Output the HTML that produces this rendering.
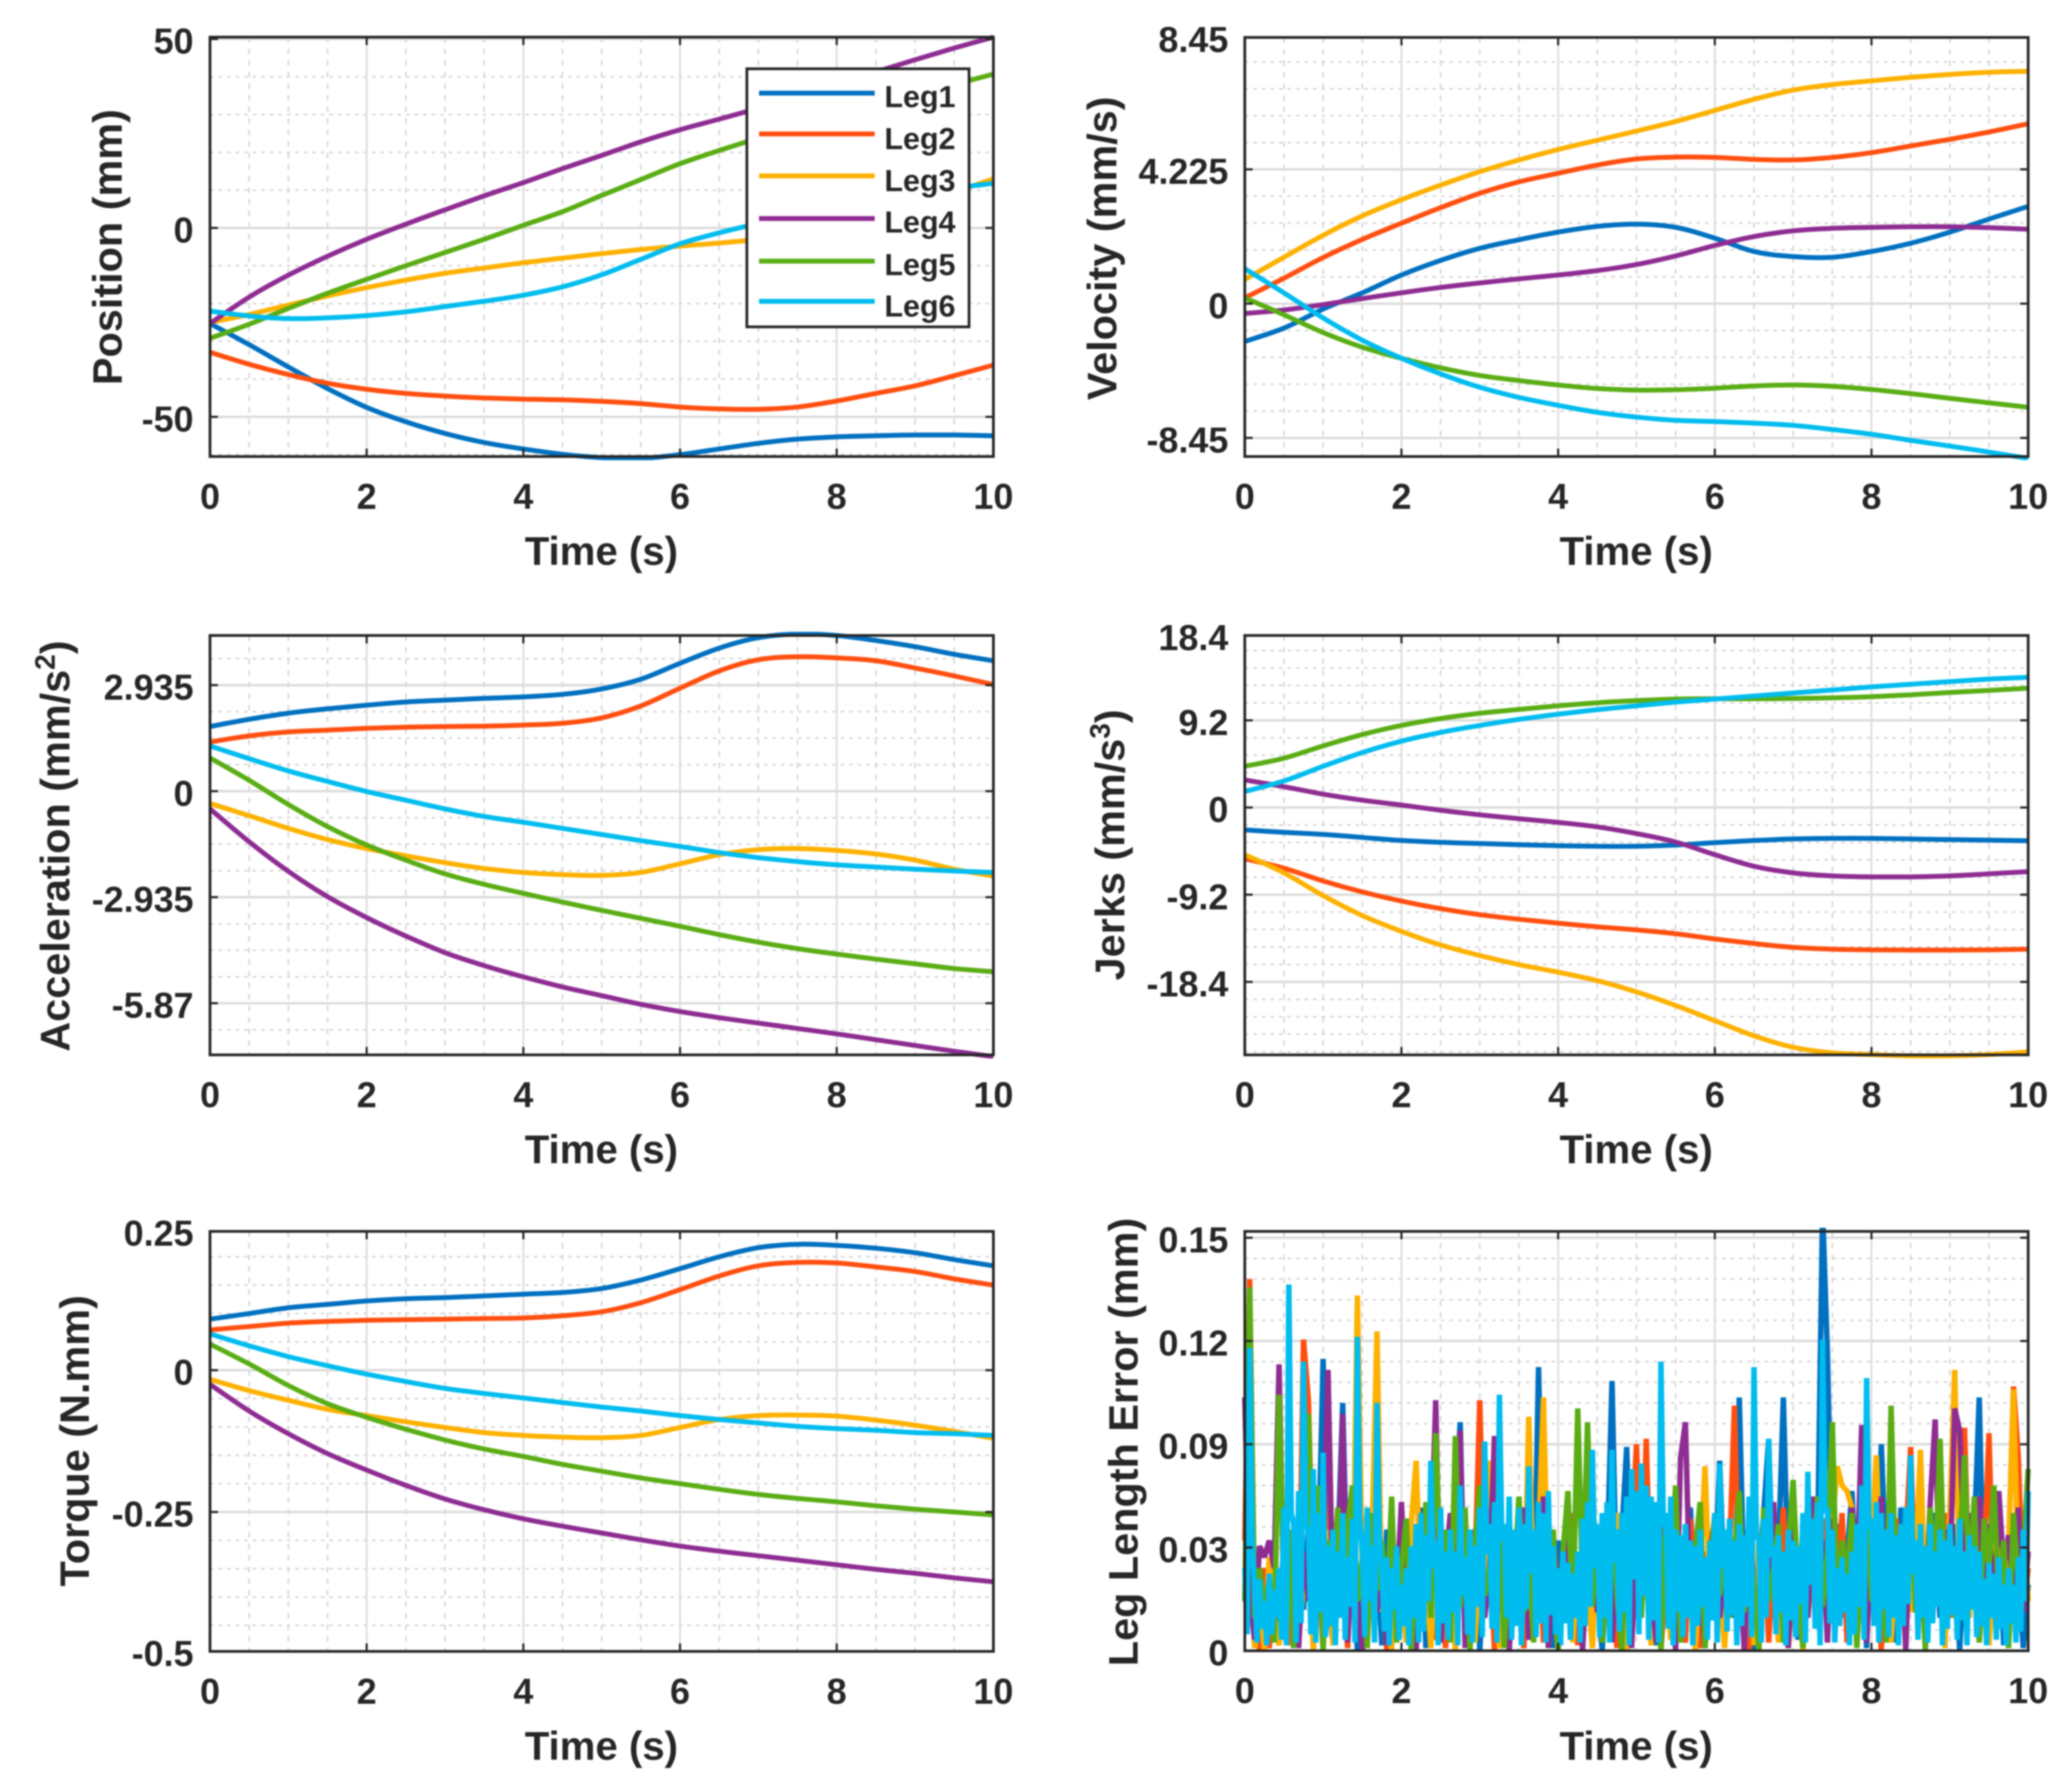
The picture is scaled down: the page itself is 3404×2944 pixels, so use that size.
<!DOCTYPE html>
<html lang="en">
<head>
<meta charset="utf-8">
<title>Leg kinematics charts</title>
<style>
html,body{margin:0;padding:0;background:#fff;}
svg{display:block;filter:blur(1.2px);}
text{font-family:"Liberation Sans",Arial,sans-serif;font-weight:bold;fill:#262626;}
.ax{font-size:66px;}
.ay{font-size:68px;}
.tick{font-size:59px;}
.leg{font-size:50px;}
</style>
</head>
<body>
<svg id="figure" xmlns="http://www.w3.org/2000/svg" width="3404" height="2944" viewBox="0 0 3404 2944">
  <rect x="0" y="0" width="3404" height="2944" fill="#fff"/>
  <defs id="defs"></defs>

  <g id="panel-position"></g>
  <g id="panel-velocity"></g>
  <g id="panel-acceleration"></g>
  <g id="panel-jerk"></g>
  <g id="panel-torque"></g>
  <g id="panel-error"></g>

  <text class="ay" transform="translate(200,406) rotate(-90)" text-anchor="middle">Position (mm)</text>
  <text class="ay" transform="translate(1834,408) rotate(-90)" text-anchor="middle">Velocity (mm/s)</text>
  <text class="ay" transform="translate(114,1390) rotate(-90)" text-anchor="middle">Acceleration (mm/s<tspan dy="-24" font-size="46">2</tspan><tspan dy="24">)</tspan></text>
  <text class="ay" transform="translate(1847,1388) rotate(-90)" text-anchor="middle">Jerks (mm/s<tspan dy="-24" font-size="46">3</tspan><tspan dy="24">)</tspan></text>
  <text class="ay" transform="translate(146,2367) rotate(-90)" text-anchor="middle">Torque (N.mm)</text>
  <text class="ay" transform="translate(1869,2369) rotate(-90)" text-anchor="middle">Leg Length Error (mm)</text>

  <text class="ax" x="988" y="928" text-anchor="middle">Time (s)</text>
  <text class="ax" x="2688" y="928" text-anchor="middle">Time (s)</text>
  <text class="ax" x="988" y="1911" text-anchor="middle">Time (s)</text>
  <text class="ax" x="2688" y="1911" text-anchor="middle">Time (s)</text>
  <text class="ax" x="988" y="2891" text-anchor="middle">Time (s)</text>
  <text class="ax" x="2688" y="2891" text-anchor="middle">Time (s)</text>

  <g id="legend">
    <rect x="1227" y="113" width="365" height="424" fill="#fff" stroke="#262626" stroke-width="4.5"/>
    <g><line x1="1247" x2="1437" y1="153" y2="153" stroke="#0070C0" stroke-width="8"/><text class="leg" x="1453" y="176">Leg1</text></g>
    <g><line x1="1247" x2="1437" y1="220" y2="220" stroke="#FF4F10" stroke-width="8"/><text class="leg" x="1453" y="245">Leg2</text></g>
    <g><line x1="1247" x2="1437" y1="289" y2="289" stroke="#FDB100" stroke-width="8"/><text class="leg" x="1453" y="314">Leg3</text></g>
    <g><line x1="1247" x2="1437" y1="359" y2="359" stroke="#8E2C92" stroke-width="8"/><text class="leg" x="1453" y="382">Leg4</text></g>
    <g><line x1="1247" x2="1437" y1="429" y2="429" stroke="#5AAD14" stroke-width="8"/><text class="leg" x="1453" y="452">Leg5</text></g>
    <g><line x1="1247" x2="1437" y1="495" y2="495" stroke="#00BCEF" stroke-width="8"/><text class="leg" x="1453" y="520">Leg6</text></g>
  </g>
</svg>

<script>
// ---- shared data ----
const timeGrid = [0,0.5,1,1.5,2,2.5,3,3.5,4,4.5,5,5.5,6,6.5,7,7.5,8,8.5,9,9.5,10];
const xTicks = [0,2,4,6,8,10];
const xTickLabels = ['0','2','4','6','8','10'];
const xMinorTicks = [0.5,1,1.5,2.5,3,3.5,4.5,5,5.5,6.5,7,7.5,8.5,9,9.5];
const legColors = ['#0070C0','#FF4F10','#FDB100','#8E2C92','#5AAD14','#00BCEF'];

// ---- position (mm) ----
const positionLeg1 = [-25.3,-30.9,-36.8,-42.5,-47.5,-51.3,-54.4,-56.8,-58.5,-59.9,-60.8,-61,-60,-58.5,-57,-55.9,-55.3,-55,-54.8,-54.8,-55];
const positionLeg2 = [-32.9,-36.1,-38.8,-41.1,-42.7,-43.8,-44.5,-45,-45.3,-45.5,-45.9,-46.5,-47.4,-47.9,-48,-47.4,-45.8,-43.8,-41.8,-39.1,-36.3];
const positionLeg3 = [-25,-22.9,-20.4,-18,-15.8,-13.8,-12,-10.6,-9.2,-8,-6.8,-5.7,-4.8,-4,-3,-1.8,0.5,3,6,9.5,13];
const positionLeg4 = [-25.3,-18.3,-12.5,-7.5,-3,1,4.8,8.5,12,15.7,19.2,22.8,26,28.8,31.7,35,38.2,41.3,44.5,47.6,50.5];
const positionLeg5 = [-29.2,-25.5,-21.3,-17.3,-13.6,-10,-6.5,-3,0.7,4.3,8.6,12.8,17,20.5,23.8,27,30,32.8,35.5,38,40.7];
const positionLeg6 = [-22,-23.3,-24,-23.8,-23.2,-22.2,-20.8,-19.4,-17.8,-15.6,-12.4,-8.3,-4.2,-1.3,1.2,3.6,5.8,8,9.5,10.6,11.8];
const positionYTicks = [50,0,-50];
const positionYTickLabels = ['50','0','-50'];
const positionYLim = [-60.5,50.5];
const positionMinorStep = 10;

// ---- velocity (mm/s) ----
const velocityLeg1 = [-1.19,-0.77,-0.17,0.34,0.9,1.36,1.74,2.01,2.25,2.43,2.5,2.4,2.06,1.64,1.48,1.46,1.64,1.9,2.25,2.66,3.06];
const velocityLeg2 = [0.18,0.8,1.45,2.02,2.53,3.02,3.47,3.83,4.1,4.36,4.55,4.61,4.6,4.54,4.52,4.6,4.75,4.96,5.17,5.4,5.66];
const velocityLeg3 = [0.76,1.46,2.15,2.76,3.27,3.73,4.15,4.52,4.85,5.14,5.43,5.73,6.08,6.43,6.72,6.89,7.01,7.12,7.21,7.28,7.31];
const velocityLeg4 = [-0.31,-0.2,-0.03,0.16,0.34,0.51,0.65,0.78,0.9,1.04,1.23,1.5,1.83,2.11,2.29,2.37,2.4,2.42,2.42,2.39,2.34];
const velocityLeg5 = [0.18,-0.35,-0.91,-1.37,-1.72,-2.02,-2.26,-2.42,-2.56,-2.67,-2.72,-2.71,-2.66,-2.59,-2.56,-2.6,-2.7,-2.83,-2.98,-3.12,-3.26];
const velocityLeg6 = [1.1,0.34,-0.45,-1.15,-1.72,-2.21,-2.63,-2.95,-3.2,-3.42,-3.57,-3.67,-3.71,-3.76,-3.83,-3.96,-4.11,-4.3,-4.48,-4.67,-4.87];
const velocityYTicks = [8.375,4.225,0,-4.225];
const velocityYTickLabels = ['8.45','4.225','0','-8.45'];
const velocityYLim = [-4.81,8.375];
const velocityMinorStep = 0.845;

// ---- acceleration (mm/s^2) ----
const accelerationLeg1 = [1.79,1.99,2.16,2.28,2.38,2.47,2.52,2.57,2.61,2.68,2.83,3.1,3.54,3.96,4.25,4.35,4.31,4.17,4,3.79,3.61];
const accelerationLeg2 = [1.36,1.53,1.64,1.69,1.74,1.77,1.79,1.8,1.83,1.88,2.03,2.36,2.85,3.33,3.64,3.72,3.69,3.61,3.41,3.19,2.95];
const accelerationLeg3 = [-0.34,-0.68,-1.03,-1.34,-1.59,-1.79,-1.98,-2.14,-2.25,-2.31,-2.33,-2.25,-2.01,-1.76,-1.62,-1.59,-1.64,-1.74,-1.91,-2.16,-2.35];
const accelerationLeg4 = [-0.49,-1.4,-2.22,-2.92,-3.5,-4.01,-4.47,-4.83,-5.14,-5.42,-5.66,-5.9,-6.1,-6.27,-6.42,-6.57,-6.72,-6.88,-7.04,-7.2,-7.35];
const accelerationLeg5 = [0.92,0.3,-0.37,-0.98,-1.49,-1.91,-2.29,-2.58,-2.83,-3.07,-3.3,-3.52,-3.74,-3.97,-4.18,-4.36,-4.51,-4.65,-4.78,-4.91,-5];
const accelerationLeg6 = [1.25,0.9,0.56,0.27,-0.01,-0.25,-0.49,-0.7,-0.86,-1.03,-1.2,-1.37,-1.53,-1.7,-1.84,-1.95,-2.04,-2.1,-2.16,-2.21,-2.25];
const accelerationYTicks = [2.935,0,-2.935,-5.87];
const accelerationYTickLabels = ['2.935','0','-2.935','-5.87'];
const accelerationYLim = [-7.3,4.31];
const accelerationMinorStep = 0.734;

// ---- jerk (mm/s^3) ----
const jerkLeg1 = [-2.36,-2.62,-2.84,-3.16,-3.48,-3.67,-3.8,-3.93,-4.03,-4.09,-4.09,-3.96,-3.71,-3.48,-3.32,-3.26,-3.26,-3.32,-3.39,-3.45,-3.51];
const jerkLeg2 = [-5.4,-6.4,-7.75,-8.91,-9.87,-10.67,-11.31,-11.79,-12.2,-12.59,-12.91,-13.32,-13.87,-14.35,-14.76,-14.95,-15.02,-15.05,-15.05,-15.02,-14.95];
const jerkLeg3 = [-4.98,-6.9,-9.3,-11.4,-13.07,-14.5,-15.62,-16.58,-17.38,-18.27,-19.46,-20.89,-22.49,-24.09,-25.3,-25.88,-26.07,-26.2,-26.2,-26.07,-25.78];
const jerkLeg4 = [2.91,2.2,1.41,0.77,0.26,-0.29,-0.77,-1.18,-1.57,-2.04,-2.75,-3.64,-4.98,-6.2,-6.9,-7.22,-7.32,-7.32,-7.22,-7,-6.77];
const jerkLeg5 = [4.35,5.2,6.5,7.7,8.66,9.39,9.94,10.35,10.73,11.05,11.28,11.44,11.47,11.47,11.5,11.57,11.69,11.89,12.14,12.36,12.59];
const jerkLeg6 = [1.69,2.8,4.35,5.8,7,7.92,8.66,9.3,9.84,10.32,10.73,11.12,11.44,11.76,12.08,12.4,12.72,13,13.29,13.55,13.74];
const jerkYTicks = [18.15,9.2,0,-9.2,-18.4];
const jerkYTickLabels = ['18.4','9.2','0','-9.2','-18.4'];
const jerkYLim = [-26.1,18.15];
const jerkMinorStep = 1.84;

// ---- torque (N.mm) ----
const torqueLeg1 = [0.09,0.1,0.11,0.116,0.122,0.126,0.128,0.131,0.134,0.137,0.144,0.159,0.179,0.2,0.216,0.222,0.22,0.215,0.207,0.195,0.184];
const torqueLeg2 = [0.071,0.077,0.083,0.086,0.088,0.089,0.09,0.091,0.092,0.096,0.103,0.119,0.142,0.166,0.184,0.19,0.189,0.182,0.174,0.161,0.15];
const torqueLeg3 = [-0.016,-0.036,-0.053,-0.069,-0.08,-0.091,-0.101,-0.11,-0.115,-0.118,-0.119,-0.115,-0.101,-0.087,-0.08,-0.079,-0.081,-0.088,-0.097,-0.108,-0.12];
const torqueLeg4 = [-0.025,-0.072,-0.112,-0.147,-0.176,-0.203,-0.227,-0.246,-0.262,-0.275,-0.287,-0.299,-0.31,-0.319,-0.327,-0.335,-0.343,-0.351,-0.358,-0.366,-0.373];
const torqueLeg5 = [0.046,0.011,-0.027,-0.059,-0.083,-0.104,-0.123,-0.139,-0.152,-0.166,-0.178,-0.19,-0.2,-0.21,-0.219,-0.226,-0.232,-0.239,-0.245,-0.25,-0.255];
const torqueLeg6 = [0.064,0.043,0.024,0.008,-0.007,-0.02,-0.032,-0.041,-0.049,-0.057,-0.065,-0.072,-0.08,-0.087,-0.093,-0.099,-0.103,-0.106,-0.11,-0.112,-0.115];
const torqueYTicks = [0.245,0,-0.25,-0.4957];
const torqueYTickLabels = ['0.25','0','-0.25','-0.5'];
const torqueYLim = [-0.4957,0.2447];
const torqueMinorStep = 0.05;

// ---- leg length error (micrometres, evenly sampled over 0..10 s) ----
const errorLeg1 = [92,30,12,28,2,18,35,3,42,20,1,38,15,46,12,30,106,22,3,36,
90,18,40,0,25,50,14,32,2,44,20,12,38,4,30,16,52,1,26,40,
12,34,18,48,83,3,28,44,0,36,20,52,14,30,2,42,24,16,46,12,
103,22,34,1,40,18,28,50,3,36,14,44,22,0,32,98,16,42,74,12,
30,48,20,36,2,26,44,14,38,22,3,52,18,30,1,40,24,69,16,34,
12,92,20,42,0,28,50,77,14,36,92,22,44,4,30,54,18,40,160,108,
26,46,12,34,58,20,38,1,48,16,75,28,42,3,52,24,36,14,44,20,
30,50,12,38,18,46,0,34,26,42,92,14,32,20,48,2,36,16,28,1,24];
const errorLeg2 = [40,135,15,0,30,1,20,12,36,2,28,4,113,91,18,34,0,78,22,12,
30,1,40,14,26,3,44,16,32,0,24,38,12,20,42,2,30,16,46,4,
28,1,36,18,22,48,3,30,91,14,40,0,34,20,46,12,26,1,38,16,
44,3,30,20,0,36,14,50,2,28,18,42,12,32,24,46,1,34,16,40,
75,20,77,12,38,0,28,44,14,30,3,48,22,1,36,16,42,12,26,34,
89,18,40,0,30,14,46,3,36,22,52,1,28,16,44,12,34,20,48,14,
70,26,50,3,38,18,54,12,30,44,0,36,22,48,14,40,74,20,32,2,
46,16,28,50,12,38,24,81,18,42,3,34,79,14,44,22,36,96,70,16,30];
const errorLeg3 = [20,45,1,26,0,34,12,2,30,16,40,4,24,36,0,28,14,44,2,32,
18,38,12,129,26,1,42,116,14,30,0,36,20,3,46,69,16,28,1,40,
22,12,34,0,44,18,26,3,38,14,69,30,1,24,48,16,36,12,85,20,
40,92,14,32,0,28,46,3,36,18,24,1,42,16,30,12,50,20,0,34,
14,44,26,2,38,18,30,4,48,22,12,36,0,28,67,16,40,24,1,34,
20,46,12,30,2,42,18,26,54,3,36,16,44,22,0,32,50,14,38,20,
46,67,60,58,52,12,40,24,34,71,18,44,3,36,26,48,14,30,73,16,
42,22,38,1,50,102,20,34,12,46,26,40,2,30,52,16,36,95,24,44,18];
const errorLeg4 = [92,20,4,38,34,40,30,104,14,28,44,1,36,18,50,12,32,102,16,26,
86,3,42,22,0,36,48,14,30,2,40,20,54,12,26,0,44,18,34,91,
3,32,50,16,80,1,38,22,44,12,28,78,14,46,0,34,20,52,4,30,
16,56,1,40,24,12,46,18,30,0,36,50,14,26,42,3,34,20,48,1,
38,16,44,26,3,52,18,32,0,70,83,14,40,22,1,36,48,12,28,44,
16,34,0,50,24,3,42,20,54,14,30,1,46,18,36,12,56,26,40,3,
48,20,32,14,52,24,82,3,44,30,56,16,71,22,40,0,50,28,36,12,
54,84,18,44,26,88,80,34,50,16,56,24,46,12,58,30,42,20,52,14,36];
const errorLeg5 = [18,132,12,30,16,26,3,93,20,44,1,36,50,86,14,60,0,40,24,52,
12,46,60,18,34,1,50,22,40,14,56,3,30,48,0,38,20,54,12,79,
26,44,3,78,16,52,0,36,60,20,30,12,48,1,40,24,56,14,34,3,
50,18,28,44,0,36,58,12,88,22,83,16,42,3,30,54,20,0,46,26,
38,12,56,18,32,0,48,24,60,3,42,16,36,54,1,28,50,20,44,12,
34,58,14,40,24,0,52,18,30,46,3,38,62,22,1,44,28,56,16,36,
83,12,40,26,50,1,34,58,18,42,24,3,89,20,46,30,60,14,38,0,
52,26,77,18,44,12,36,71,22,56,3,48,30,60,16,40,1,50,24,36,66];
const errorLeg6 = [30,6,110,40,22,3,26,8,18,2,28,6,22,12,30,4,52,2,133,50,46,3,58,10,105,45,44,6,66,3,50,14,72,5,38,9,44,2,36,12,
50,4,34,16,48,3,114,48,36,5,52,18,38,3,90,42,28,7,34,2,30,15,38,4,24,9,30,2,38,12,46,3,50,7,42,18,69,30,40,2,
52,10,36,4,44,14,36,2,60,20,34,6,44,3,38,16,52,5,76,35,46,8,54,3,93,40,46,12,56,4,44,9,52,2,46,15,67,28,44,5,
54,10,50,3,58,13,38,6,30,2,36,10,32,4,28,12,36,3,48,9,54,16,73,30,46,5,50,12,54,3,73,32,44,7,50,14,56,2,66,26,
58,6,68,20,60,4,56,11,54,3,105,45,50,8,56,2,44,14,42,5,46,12,40,2,38,9,44,16,34,4,40,11,50,3,68,30,44,7,48,13,
40,2,46,9,42,16,56,5,103,42,40,3,48,12,77,34,38,6,42,14,36,2,44,11,40,5,38,17,50,3,65,24,48,8,54,2,113,50,52,10,
44,3,30,9,34,14,28,2,36,6,46,16,60,4,99,44,48,9,54,3,50,15,44,5,50,12,42,2,46,9,52,17,71,28,40,4,46,12,38,3,
46,10,36,16,44,2,40,8,46,13,38,4,48,11,36,2,42,15,38,5,36,9,26,2,32,12,28,4,34,8,24,2,30,10,24,3,34,7,44,18,58];
const errorYTicks = [150,112.5,75,37.5,0];
const errorYTickLabels = ['0.15','0.12','0.09','0.03','0'];
const errorYLim = [0,152.3];
const errorMinorStep = 7.5;

// ---- axis helpers ----
const NS = 'http://www.w3.org/2000/svg';
function mk(parent, tag, attrs) {
  const el = document.createElementNS(NS, tag);
  for (const k in attrs) el.setAttribute(k, attrs[k]);
  parent.appendChild(el);
  return el;
}
function xScale(box, t) { return box.x0 + (t / 10) * (box.x1 - box.x0); }
function yScale(box, v) { return box.y1 - (v - box.lim[0]) / (box.lim[1] - box.lim[0]) * (box.y1 - box.y0); }

function smoothPath(box, ts, vs) {
  const px = ts.map(t => xScale(box, t));
  const py = vs.map(v => yScale(box, v));
  let d = 'M' + px[0].toFixed(1) + ' ' + py[0].toFixed(1);
  for (let i = 0; i < px.length - 1; i++) {
    const a = Math.max(i - 1, 0), b = Math.min(i + 2, px.length - 1);
    const c1x = px[i] + (px[i + 1] - px[a]) / 6, c1y = py[i] + (py[i + 1] - py[a]) / 6;
    const c2x = px[i + 1] - (px[b] - px[i]) / 6, c2y = py[i + 1] - (py[b] - py[i]) / 6;
    d += 'C' + c1x.toFixed(1) + ' ' + c1y.toFixed(1) + ' ' + c2x.toFixed(1) + ' ' + c2y.toFixed(1) + ' ' + px[i + 1].toFixed(1) + ' ' + py[i + 1].toFixed(1);
  }
  return d;
}
function rawPath(box, vs) {
  let d = '';
  vs.forEach(function (v, i) {
    d += (i ? 'L' : 'M') + xScale(box, i * 10 / (vs.length - 1)).toFixed(1) + ' ' + yScale(box, v).toFixed(1);
  });
  return d;
}

function drawPanel(id, key, box, yTicks, yLabels, minorStep, seriesList, raw) {
  const g = document.getElementById(id);
  const defs = document.getElementById('defs');
  const clip = mk(defs, 'clipPath', { id: 'clip-' + key });
  mk(clip, 'rect', { x: box.x0 - 6, y: box.y0 - 6, width: box.x1 - box.x0 + 12, height: box.y1 - box.y0 + 12 });

  const minorColor = '#d4d4d4', majorColor = '#dcdcdc', inkColor = '#262626';

  // minor grid
  xMinorTicks.forEach(function (t) {
    const l = mk(g, 'line', { x1: xScale(box, t), x2: xScale(box, t), y1: box.y0, y2: box.y1, stroke: minorColor, 'stroke-width': 2.5, 'stroke-dasharray': '9 10' });
    
    
  });
  const major0 = yTicks[yTicks.length - 1];
  for (let k = -60; k <= 60; k++) {
    const v = (yTicks.indexOf(0) >= 0 ? 0 : major0) + k * minorStep;
    if (v <= box.lim[0] || v >= box.lim[1]) continue;
    const l = mk(g, 'line', { x1: box.x0, x2: box.x1, y1: yScale(box, v), y2: yScale(box, v), stroke: minorColor, 'stroke-width': 2.5, 'stroke-dasharray': '6 8' });
    
    
  }
  // major grid
  xTicks.forEach(function (t) {
    const l = mk(g, 'line', { x1: xScale(box, t), x2: xScale(box, t), y1: box.y0, y2: box.y1, stroke: majorColor, 'stroke-width': 3 });
    
    
  });
  yTicks.forEach(function (v) {
    const l = mk(g, 'line', { x1: box.x0, x2: box.x1, y1: yScale(box, v), y2: yScale(box, v), stroke: majorColor, 'stroke-width': 4 });
    
    
  });

  // series
  const plot = mk(g, 'g', { 'clip-path': 'url(#clip-' + key + ')' });
  
  
  seriesList.forEach(function (vs, i) {
    const d = raw ? rawPath(box, vs) : smoothPath(box, timeGrid, vs);
    const p = mk(plot, 'path', { d: d, fill: 'none', stroke: legColors[i], 'stroke-width': raw ? 9 : 8, 'stroke-linejoin': 'bevel' });
    
    
  });

  // frame
  const frame = mk(g, 'rect', { x: box.x0, y: box.y0, width: box.x1 - box.x0, height: box.y1 - box.y0, fill: 'none', stroke: inkColor, 'stroke-width': 4.5 });
  
  

  // x ticks and labels
  xTicks.forEach(function (t, i) {
    const x = xScale(box, t);
    const a = mk(g, 'line', { x1: x, x2: x, y1: box.y1, y2: box.y1 - 13, stroke: inkColor, 'stroke-width': 3.5 });
    
    
    const b = mk(g, 'line', { x1: x, x2: x, y1: box.y0, y2: box.y0 + 13, stroke: inkColor, 'stroke-width': 3.5 });
    
    
    const lab = mk(g, 'text', { x: x, y: box.y1 + 86, 'text-anchor': 'middle', 'class': 'tick' });
    lab.textContent = xTickLabels[i];
    
    
  });

  // y ticks and labels
  yTicks.forEach(function (v, i) {
    const y = yScale(box, v);
    const a = mk(g, 'line', { x1: box.x0, x2: box.x0 + 13, y1: y, y2: y, stroke: inkColor, 'stroke-width': 3.5 });
    
    
    const b = mk(g, 'line', { x1: box.x1, x2: box.x1 - 13, y1: y, y2: y, stroke: inkColor, 'stroke-width': 3.5 });
    
    
    const lab = mk(g, 'text', { x: box.x0 - 27, y: y + 24, 'text-anchor': 'end', 'class': 'tick' });
    lab.textContent = yLabels[i];
    
    
  });
}

drawPanel('panel-position', 'position', { x0: 345, x1: 1632, y0: 61, y1: 750, lim: positionYLim }, positionYTicks, positionYTickLabels, positionMinorStep,
  [positionLeg1, positionLeg2, positionLeg3, positionLeg4, positionLeg5, positionLeg6], false);
drawPanel('panel-velocity', 'velocity', { x0: 2045, x1: 3332, y0: 61.5, y1: 750, lim: velocityYLim }, velocityYTicks, velocityYTickLabels, velocityMinorStep,
  [velocityLeg1, velocityLeg2, velocityLeg3, velocityLeg4, velocityLeg5, velocityLeg6], false);
drawPanel('panel-acceleration', 'acceleration', { x0: 345, x1: 1632, y0: 1044, y1: 1733, lim: accelerationYLim }, accelerationYTicks, accelerationYTickLabels, accelerationMinorStep,
  [accelerationLeg1, accelerationLeg2, accelerationLeg3, accelerationLeg4, accelerationLeg5, accelerationLeg6], false);
drawPanel('panel-jerk', 'jerk', { x0: 2045, x1: 3332, y0: 1044, y1: 1733, lim: jerkYLim }, jerkYTicks, jerkYTickLabels, jerkMinorStep,
  [jerkLeg1, jerkLeg2, jerkLeg3, jerkLeg4, jerkLeg5, jerkLeg6], false);
drawPanel('panel-torque', 'torque', { x0: 345, x1: 1632, y0: 2023, y1: 2713, lim: torqueYLim }, torqueYTicks, torqueYTickLabels, torqueMinorStep,
  [torqueLeg1, torqueLeg2, torqueLeg3, torqueLeg4, torqueLeg5, torqueLeg6], false);
drawPanel('panel-error', 'error', { x0: 2045, x1: 3332, y0: 2023, y1: 2712, lim: errorYLim }, errorYTicks, errorYTickLabels, errorMinorStep,
  [errorLeg1, errorLeg2, errorLeg3, errorLeg4, errorLeg5, errorLeg6], true);
</script>
</body>
</html>
